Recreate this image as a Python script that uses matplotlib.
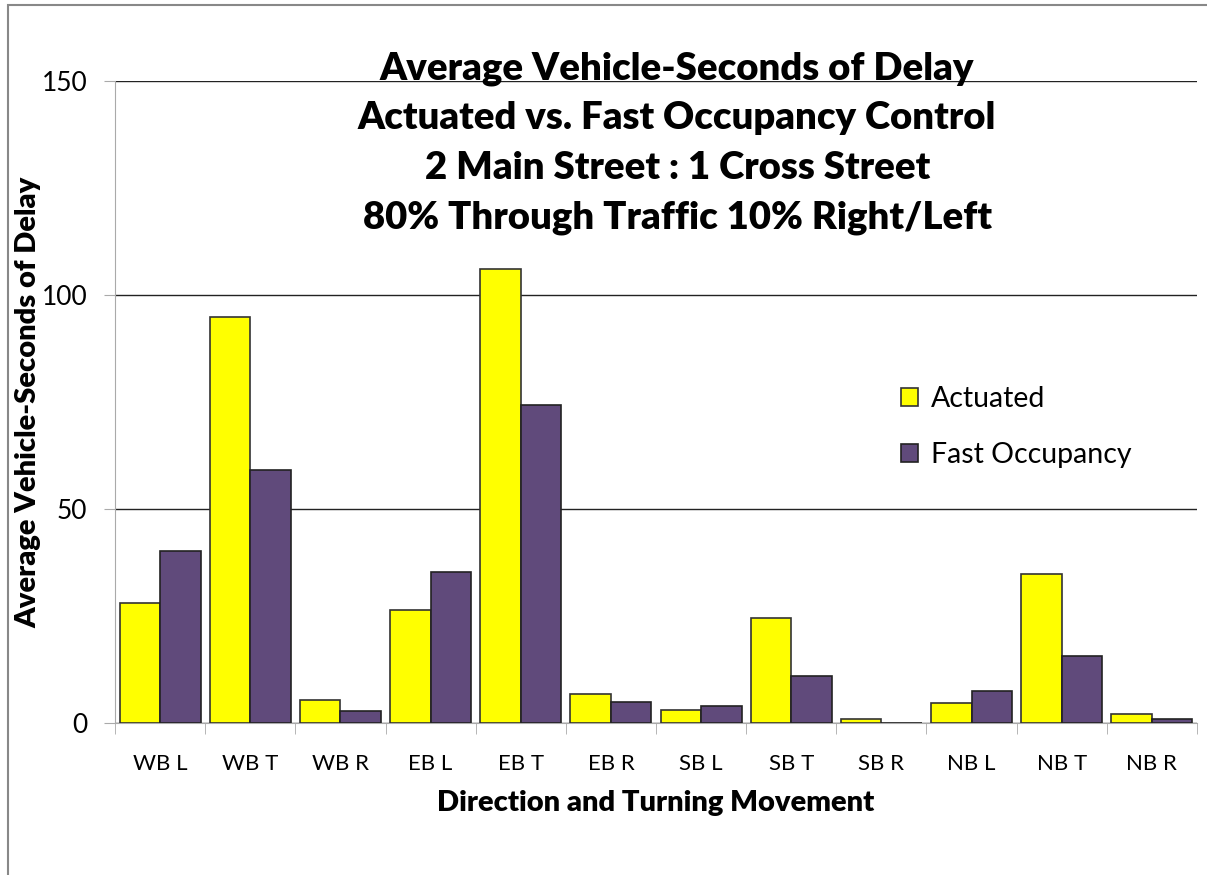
import numpy as np
import matplotlib
matplotlib.use("Agg")
import matplotlib.pyplot as plt
from matplotlib.patches import Rectangle

plt.rcParams['font.family'] = ['Lato', 'DejaVu Sans']

movements = ['WB L', 'WB T', 'WB R', 'EB L', 'EB T', 'EB R',
             'SB L', 'SB T', 'SB R', 'NB L', 'NB T', 'NB R']
actuated = [28.0, 94.8, 5.4, 26.4, 106.1, 6.8, 3.0, 24.5, 0.9, 4.6, 34.8, 2.0]
fast_occ = [40.2, 59.2, 2.8, 35.2, 74.4, 5.0, 4.0, 10.9, 0.1, 7.4, 15.7, 0.9]

title_lines = ['Average Vehicle-Seconds of Delay',
               'Actuated vs. Fast Occupancy Control',
               '2 Main Street : 1 Cross Street',
               '80% Through Traffic 10% Right/Left']

fig = plt.figure(figsize=(12.07, 8.75), dpi=100)
ax = fig.add_axes([0.0953, 0.1737, 0.8964, 0.7337])

x = np.arange(len(movements))
w = 0.45
ax.bar(x - w / 2, actuated, w, color='#ffff00', edgecolor='#333333', linewidth=1.2,
       label='Actuated', zorder=3)
ax.bar(x + w / 2, fast_occ, w, color='#604a7b', edgecolor='#222222', linewidth=1.2,
       label='Fast Occupancy', zorder=3)

ax.set_xlim(-0.5, len(movements) - 0.5)
ax.set_ylim(0, 150)
ax.set_yticks([0, 50, 100, 150])
ax.yaxis.grid(True, color='#222222', linewidth=1.0, zorder=0)
ax.set_axisbelow(True)

ax.set_xticks(x)
ax.set_xticklabels(movements, fontsize=16)
ax.set_xticks(np.arange(-0.5, len(movements)), minor=True)
ax.tick_params(axis='x', which='major', length=0, pad=22)
ax.tick_params(axis='x', which='minor', length=8, color='#aaaaaa')
ax.tick_params(axis='y', length=8, color='#aaaaaa', labelsize=19, pad=12)

for s in ['top', 'right']:
    ax.spines[s].set_visible(False)
ax.spines['left'].set_color('#aaaaaa')
ax.spines['bottom'].set_color('#aaaaaa')

ax.set_xlabel('Direction and Turning Movement', fontsize=21, fontweight='heavy', labelpad=12)
ax.set_ylabel('Average Vehicle-Seconds of Delay', fontsize=21, fontweight='heavy')
ax.yaxis.set_label_coords(-0.068, 0.5)

for i, line in enumerate(title_lines):
    fig.text(0.561, 0.922 - i * 0.0568, line, ha='center', va='center',
             fontsize=27.5, fontweight='heavy')

leg = ax.legend(loc='upper left', bbox_to_anchor=(0.703, 0.565), frameon=False,
                fontsize=20.5, handlelength=0.6, handleheight=0.6,
                labelspacing=1.05, handletextpad=0.45)

fig.patches.append(Rectangle((0.007, -0.01), 1.0, 1.004, transform=fig.transFigure,
                             fill=False, edgecolor='#888888', linewidth=1.5))

fig.savefig('out.png', dpi=100)
